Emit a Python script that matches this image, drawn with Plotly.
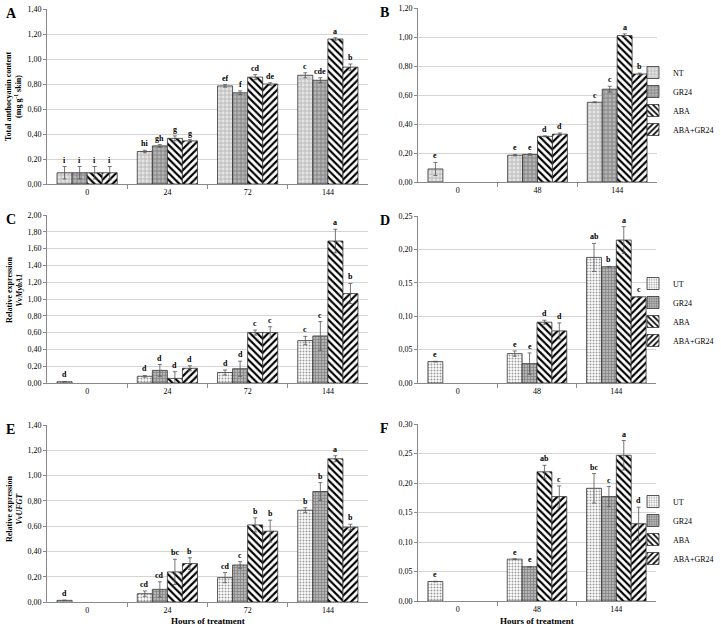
import plotly.graph_objects as go

W, H = 721, 626

# ---------------- data ----------------
series_AB = ["NT", "GR24", "ABA", "ABA+GR24"]
series_CF = ["UT", "GR24", "ABA", "ABA+GR24"]

cats_A = ["0", "24", "72", "144"]
A_vals = [[0.09, 0.26, 0.785, 0.87],
          [0.09, 0.305, 0.73, 0.83],
          [0.09, 0.365, 0.855, 1.16],
          [0.09, 0.345, 0.80, 0.935]]
A_errs = [[0.05, 0.01, 0.01, 0.02],
          [0.05, 0.01, 0.015, 0.02],
          [0.05, 0.02, 0.02, 0.01],
          [0.05, 0.01, 0.01, 0.025]]
A_lbls = [["i", "hi", "ef", "c"],
          ["i", "gh", "f", "cde"],
          ["i", "g", "cd", "a"],
          ["i", "g", "de", "b"]]

cats_B = ["0", "48", "144"]
B_vals = [[0.09, 0.185, 0.55],
          [None, 0.19, 0.64],
          [None, 0.315, 1.01],
          [None, 0.33, 0.745]]
B_errs = [[0.045, 0.005, 0.003],
          [0, 0.005, 0.02],
          [0, 0.003, 0.012],
          [0, 0.008, 0.006]]
B_lbls = [["e", "e", "c"],
          [None, "e", "c"],
          [None, "d", "a"],
          [None, "d", "b"]]

cats_C = ["0", "24", "72", "144"]
C_vals = [[0.015, 0.08, 0.125, 0.505],
          [None, 0.15, 0.17, 0.56],
          [None, 0.055, 0.60, 1.69],
          [None, 0.175, 0.60, 1.065]]
C_errs = [[0.003, 0.01, 0.03, 0.05],
          [0, 0.07, 0.09, 0.17],
          [0, 0.08, 0.03, 0.14],
          [0, 0.03, 0.07, 0.12]]
C_lbls = [["d", "d", "d", "c"],
          [None, "d", "d", "c"],
          [None, "d", "c", "a"],
          [None, "d", "c", "b"]]

cats_D = ["0", "48", "144"]
D_vals = [[0.032, 0.044, 0.188],
          [None, 0.029, 0.174],
          [None, 0.091, 0.214],
          [None, 0.078, 0.129]]
D_errs = [[0.0005, 0.004, 0.021],
          [0, 0.016, 0.0005],
          [0, 0.003, 0.02],
          [0, 0.012, 0.0005]]
D_lbls = [["e", "e", "ab"],
          [None, "e", "b"],
          [None, "d", "a"],
          [None, "d", "c"]]

cats_E = ["0", "24", "72", "144"]
E_vals = [[0.013, 0.066, 0.193, 0.726],
          [None, 0.10, 0.293, 0.874],
          [None, 0.238, 0.61, 1.133],
          [None, 0.304, 0.56, 0.592]]
E_errs = [[0.002, 0.021, 0.04, 0.02],
          [0, 0.06, 0.026, 0.07],
          [0, 0.10, 0.056, 0.024],
          [0, 0.046, 0.087, 0.023]]
E_lbls = [["d", "cd", "cd", "b"],
          [None, "cd", "c", "b"],
          [None, "bc", "b", "a"],
          [None, "b", "b", "b"]]

cats_F = ["0", "48", "144"]
F_vals = [[0.033, 0.071, 0.191],
          [None, 0.058, 0.177],
          [None, 0.219, 0.247],
          [None, 0.177, 0.131]]
F_errs = [[0.0005, 0.0005, 0.025],
          [0, 0.0005, 0.017],
          [0, 0.011, 0.025],
          [0, 0.018, 0.028]]
F_lbls = [["e", "e", "bc"],
          [None, "e", "c"],
          [None, "ab", "a"],
          [None, "c", "d"]]

# ---------------- styles ----------------
FONT = "Liberation Serif"
BARGAP = 0.25

pat_AB = [dict(shape="+", bgcolor="#e4e4e4", fgcolor="#b8b8b8", size=4, solidity=0.4),
          dict(shape="+", bgcolor="#b4b4b4", fgcolor="#808080", size=4, solidity=0.4),
          dict(shape="\\", bgcolor="white", fgcolor="black", size=5, solidity=0.42),
          dict(shape="/", bgcolor="white", fgcolor="black", size=5, solidity=0.42)]
pat_CF = [dict(shape=".", bgcolor="white", fgcolor="#9a9a9a", size=3, solidity=0.35),
          dict(shape="+", bgcolor="#b4b4b4", fgcolor="#7e7e7e", size=3, solidity=0.4),
          dict(shape="\\", bgcolor="white", fgcolor="black", size=5, solidity=0.42),
          dict(shape="/", bgcolor="white", fgcolor="black", size=5, solidity=0.42)]

def px_dom_x(a, b):
    return [a / W, b / W]

def px_dom_y(top, bottom):
    return [1 - bottom / H, 1 - top / H]

panels = [
    ("A", cats_A, A_vals, A_errs, A_lbls, series_AB, pat_AB, (47, 368), (9, 184), 1.4, 0.2, None),
    ("B", cats_B, B_vals, B_errs, B_lbls, series_AB, pat_AB, (418, 657), (8, 182), 1.2, 0.2, "legend"),
    ("C", cats_C, C_vals, C_errs, C_lbls, series_CF, pat_CF, (47, 368), (215, 383), 2.0, 0.2, None),
    ("D", cats_D, D_vals, D_errs, D_lbls, series_CF, pat_CF, (418, 656), (216, 383), 0.25, 0.05, "legend2"),
    ("E", cats_E, E_vals, E_errs, E_lbls, series_CF, pat_CF, (47, 368), (425, 602), 1.4, 0.2, None),
    ("F", cats_F, F_vals, F_errs, F_lbls, series_CF, pat_CF, (418, 656), (424, 601), 0.30, 0.05, "legend3"),
]

fig = go.Figure()
layout = dict(
    template="none",
    width=W, height=H, margin=dict(l=0, r=0, t=0, b=0, pad=0, autoexpand=False),
    paper_bgcolor="white", plot_bgcolor="white",
    barmode="group", bargap=BARGAP, bargroupgap=0,
    separators=",.",
    font=dict(family=FONT, size=8, color="#000000"),
    showlegend=True,
)
annotations = []

for i, (key, cats, vals, errs, lbls, names, pats, xd, yd, ymax, dtick, leg) in enumerate(panels):
    n = i + 1
    xa = "x" if n == 1 else f"x{n}"
    ya = "y" if n == 1 else f"y{n}"
    xkey = "xaxis" if n == 1 else f"xaxis{n}"
    ykey = "yaxis" if n == 1 else f"yaxis{n}"
    pos = list(range(len(cats)))
    for s in range(4):
        tr = dict(
            x=pos, y=vals[s], name=names[s], xaxis=xa, yaxis=ya,
            marker=dict(pattern=pats[s], color=pats[s]["bgcolor"],
                        line=dict(color="#333333", width=0.8)),
            error_y=dict(type="data", array=errs[s], visible=True,
                         color="#555555", thickness=0.8, width=2),
            showlegend=leg is not None,
            hoverinfo="skip",
        )
        if leg is not None:
            tr["legend"] = leg
        fig.add_trace(go.Bar(**tr))
    bounds = [p + 0.5 for p in pos[:-1]]
    layout[xkey] = dict(
        domain=px_dom_x(*xd), anchor=ya, type="linear", automargin=False,
        range=[-0.5, len(cats) - 0.5],
        tickmode="array", tickvals=pos, ticktext=cats, ticks="",
        showline=True, linecolor="#8a8a8a", linewidth=1,
        minor=dict(tickmode="array", tickvals=bounds, ticks="outside",
                   ticklen=4, tickcolor="#8a8a8a", showgrid=False),
        tickfont=dict(family=FONT, size=8, color="#000000"), showgrid=False, zeroline=False,
    )
    layout[ykey] = dict(
        domain=px_dom_y(*yd), anchor=xa, range=[0, ymax], dtick=dtick, tick0=0,
        tickmode="linear", automargin=False,
        tickformat=".2f", showline=True, linecolor="#8a8a8a", linewidth=1,
        ticks="outside", ticklen=3, tickcolor="#8a8a8a",
        showgrid=True, gridcolor="#d4d4d4", gridwidth=1,
        tickfont=dict(family=FONT, size=8, color="#000000"), zeroline=False,
    )
    plot_w = xd[1] - xd[0]
    cat_px = plot_w / len(cats)
    bar_px = cat_px * (1 - BARGAP) / 4
    for s in range(4):
        off = (s - 1.5) * bar_px
        for c in pos:
            if vals[s][c] is None or lbls[s][c] is None:
                continue
            annotations.append(dict(
                x=c, y=vals[s][c] + errs[s][c], xref=xa, yref=ya,
                xshift=off, yshift=0, yanchor="bottom", xanchor="center",
                text=f"<b>{lbls[s][c]}</b>", showarrow=False,
                font=dict(family=FONT, size=8, color="#000000"),
            ))
    lx = 4 if key in "ACE" else 378
    annotations.append(dict(
        x=lx / W, y=1 - (yd[0] - 5) / H, xref="paper", yref="paper",
        xanchor="left", yanchor="top", text=f"<b>{key}</b>", showarrow=False,
        font=dict(family=FONT, size=14, color="#000000"),
    ))

ytitles = [
    ("Total anthocyanin content<br>(mg g<sup>-1</sup> skin)", 97),
    ("Relative expression<br><i>VvMybA1</i>", 290),
    ("Relative expression<br><i>VvUFGT</i>", 509),
]
for txt, yc in ytitles:
    annotations.append(dict(
        x=14 / W, y=1 - yc / H, xref="paper", yref="paper",
        xanchor="center", yanchor="middle", textangle=-90,
        text=f"<b>{txt}</b>", showarrow=False,
        font=dict(family=FONT, size=8, color="#000000"),
    ))
for xc in [(47 + 368) / 2, (418 + 656) / 2]:
    annotations.append(dict(
        x=xc / W, y=1 - 621 / H, xref="paper", yref="paper",
        xanchor="center", yanchor="middle",
        text="<b>Hours of treatment</b>", showarrow=False,
        font=dict(family=FONT, size=9, color="#000000"),
    ))

layout["annotations"] = annotations
leg_common = dict(xanchor="left", yanchor="top", bgcolor="rgba(0,0,0,0)",
                  font=dict(family=FONT, size=8, color="#000000"),
                  tracegroupgap=0, itemwidth=30)
layout["legend"] = dict(x=633 / W, y=1 - 58 / H, **leg_common)
layout["legend2"] = dict(x=633 / W, y=1 - 269 / H, **leg_common)
layout["legend3"] = dict(x=633 / W, y=1 - 487 / H, **leg_common)

fig.update_layout(**layout)
fig.write_html("out.html",
               config={"displayModeBar": False},
               post_script="document.body.style.margin='0';document.body.style.overflow='hidden';")
